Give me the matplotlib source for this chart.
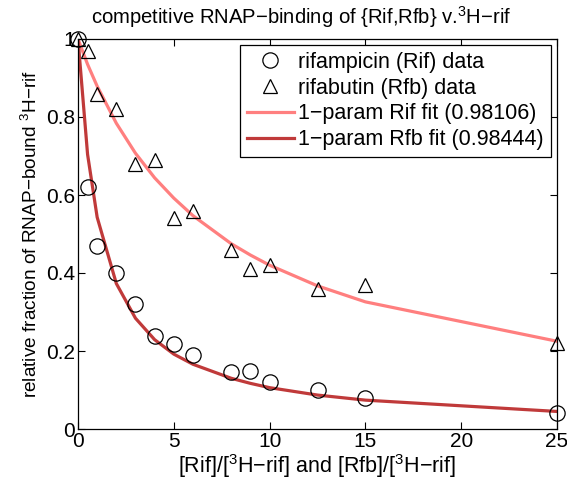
import matplotlib
matplotlib.use("Agg")
import matplotlib.pyplot as plt

plt.rcParams['font.family'] = ['Liberation Sans', 'DejaVu Sans']
plt.rcParams['mathtext.fontset'] = 'custom'
plt.rcParams['mathtext.rm'] = 'Liberation Sans'
plt.rcParams['mathtext.default'] = 'regular'

x = [0, 0.5, 1, 2, 3, 4, 5, 6, 8, 9, 10, 12.5, 15, 25]
rif_data = [1.0, 0.62, 0.47, 0.40, 0.32, 0.238, 0.218, 0.19, 0.145, 0.15, 0.12, 0.10, 0.08, 0.041]
rfb_data = [1.0, 0.97, 0.86, 0.82, 0.68, 0.69, 0.54, 0.56, 0.46, 0.41, 0.42, 0.36, 0.37, 0.22]
rif_fit = [1.0, 0.935, 0.879, 0.784, 0.707, 0.644, 0.592, 0.547, 0.475, 0.446, 0.42, 0.367, 0.326, 0.225]
rfb_fit = [1.0, 0.704, 0.543, 0.373, 0.284, 0.229, 0.192, 0.166, 0.130, 0.117, 0.106, 0.087, 0.074, 0.045]

labels = ['rifampicin (Rif) data', 'rifabutin (Rfb) data',
          '1\u2212param Rif fit (0.98106)', '1\u2212param Rfb fit (0.98444)']
xticks = [0, 5, 10, 15, 20, 25]
yticks = [0, 0.2, 0.4, 0.6, 0.8, 1]
yticklabels = ['0', '0.2', '0.4', '0.6', '0.8', '1']

fig = plt.figure(figsize=(5.67, 4.94), dpi=100)
ax = fig.add_axes([78/567, 65/494, 479/567, 390/494])

ax.plot(x, rif_data, 'o', mfc='none', mec='black', ms=11, mew=0.9, clip_on=False, label=labels[0], zorder=3)
ax.plot(x, rfb_data, '^', mfc='none', mec='black', ms=9.5, mew=0.9, clip_on=False, label=labels[1], zorder=3)
ax.plot(x, rif_fit, '-', color='#FF7F7F', lw=2.3, label=labels[2], zorder=2)
ax.plot(x, rfb_fit, '-', color='#C03A3A', lw=2.3, label=labels[3], zorder=2)

ax.set_xlim(0, 25)
ax.set_ylim(0, 1)
ax.set_xticks(xticks)
ax.set_yticks(yticks)
ax.set_yticklabels(yticklabels)
ax.tick_params(direction='in', length=5, width=0.8, labelsize=15, top=True, right=True, pad=2)
for s in ax.spines.values():
    s.set_linewidth(0.9)

ax.set_title('competitive RNAP\u2212binding of {Rif,Rfb} v.$^{3}$H\u2212rif', fontsize=14.6, pad=11, x=0.465)
ax.set_xlabel('[Rif]/[$^{3}$H\u2212rif] and [Rfb]/[$^{3}$H\u2212rif]', fontsize=15.5, labelpad=1)
ax.set_ylabel('relative fraction of RNAP\u2212bound $^{3}$H\u2212rif', fontsize=13.7, labelpad=4)

leg = ax.legend(loc='upper right', fontsize=15.5, frameon=True, fancybox=False,
                edgecolor='black', framealpha=1, borderaxespad=0.3,
                handlelength=2.2, handletextpad=0.2, labelspacing=0.22, borderpad=0.3)
leg.get_frame().set_linewidth(0.9)

fig.savefig('out.png', dpi=100)
